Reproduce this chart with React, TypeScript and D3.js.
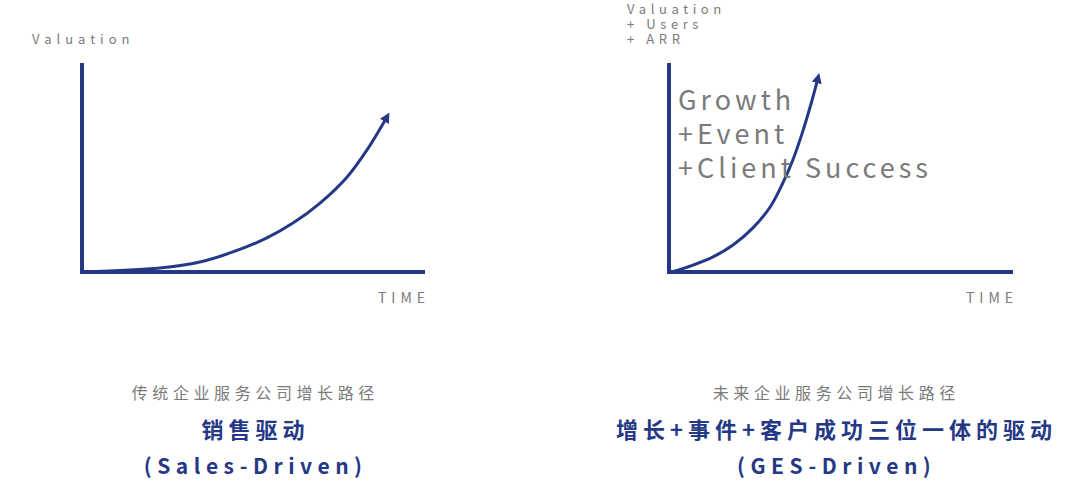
import React from "react";
import * as d3 from "d3";

const W = 1080;
const H = 489;
const NAVY = "#243886";
const GRAY = "#7a7a7a";
const FONT = "'Noto Sans CJK SC', 'Noto Sans', sans-serif";

// Left chart: Sales-Driven growth curve (time %, valuation %)
const salesTime = [0.3, 22.7, 34.4, 44, 53.9, 61.5, 69.4, 77.3, 83.1, 88.9];
const salesValue = [0, 1.9, 4.8, 9.6, 16.3, 23.4, 33, 45.5, 58.4, 74.2];

// Right chart: GES-Driven growth curve
const gesTime = [0.9, 7, 12.8, 18.6, 24.4, 29.4, 33.1, 36, 39, 41.6, 43.3];
const gesValue = [0, 3.3, 7.2, 12.9, 21.1, 31.1, 42.6, 53.6, 67.9, 82.3, 92.8];

const leftYLabels = ["Valuation"];
const rightYLabels = ["Valuation", "+ Users", "+ ARR"];
const growthLabels = ["Growth", "+Event", "+Client Success"];
const leftTitles = ["传统企业服务公司增长路径", "销售驱动", "(Sales-Driven)"];
const rightTitles = ["未来企业服务公司增长路径", "增长+事件+客户成功三位一体的驱动", "(GES-Driven)"];

type Panel = {
  x0: number;
  x1: number;
  t: number[];
  v: number[];
};

function Chart({ x0, x1, t, v, id }: Panel & { id: string }) {
  const x = d3.scaleLinear().domain([0, 100]).range([x0, x1]);
  const y = d3.scaleLinear().domain([0, 100]).range([272, 63]);
  const pts: [number, number][] = t.map((d, i) => [d, v[i]]);
  const line = d3
    .line<[number, number]>()
    .x((d) => x(d[0]))
    .y((d) => y(d[1]))
    .curve(d3.curveCatmullRom.alpha(0.5));
  return (
    <g>
      <defs>
        <marker
          id={id}
          viewBox="0 0 10 10"
          refX="5"
          refY="5"
          markerWidth="3.4"
          markerHeight="3.4"
          orient="auto"
          markerUnits="strokeWidth"
        >
          <path d="M0,0 L10,5 L0,10 Z" fill={NAVY} />
        </marker>
      </defs>
      <path
        d={`M${x(0)},${y(100)} L${x(0)},${y(0)} L${x(100)},${y(0)}`}
        fill="none"
        stroke={NAVY}
        strokeWidth={4}
        strokeLinejoin="miter"
      />
      <path d={line(pts) || ""} fill="none" stroke={NAVY} strokeWidth={3} markerEnd={`url(#${id})`} />
      <text
        x={x(100)}
        y={303}
        textAnchor="end"
        fontFamily={FONT}
        fontSize={14}
        letterSpacing={5}
        fill={GRAY}
        dx={5}
      >
        TIME
      </text>
    </g>
  );
}

export default function App() {
  const lcx = 253;
  const rcx = 834;
  return (
    <svg width={W} height={H} style={{ display: "block", position: "absolute", left: 0, top: 0, background: "#fff" }}>
      <rect width={W} height={H} fill="#fff" />
      <Chart id="arrL" x0={82} x1={425} t={salesTime} v={salesValue} />
      <Chart id="arrR" x0={669} x1={1013} t={gesTime} v={gesValue} />

      {leftYLabels.map((s, i) => (
        <text key={s} x={32} y={44 + i * 15} fontFamily={FONT} fontSize={13} letterSpacing={5} fill={GRAY}>
          {s}
        </text>
      ))}
      {rightYLabels.map((s, i) => (
        <text key={s} x={627} y={14 + i * 15} fontFamily={FONT} fontSize={13} letterSpacing={4.6} fill={GRAY}>
          {s}
        </text>
      ))}
      {growthLabels.map((s, i) => (
        <text key={s} x={678} y={110 + i * 34} fontFamily={FONT} fontSize={27} letterSpacing={4} fill={GRAY}>
          {s}
        </text>
      ))}

      {[
        { titles: leftTitles, cx: lcx },
        { titles: rightTitles, cx: rcx },
      ].map(({ titles, cx }) => (
        <g key={cx}>
          <text x={cx} y={399} textAnchor="middle" fontFamily={FONT} fontSize={16} letterSpacing={4.6} dx={2.3} fill={GRAY}>
            {titles[0]}
          </text>
          <text x={cx} y={438} textAnchor="middle" fontFamily={FONT} fontSize={22} fontWeight={700} letterSpacing={5} dx={2.5} fill={NAVY}>
            {titles[1]}
          </text>
          <text x={cx} y={474} textAnchor="middle" fontFamily={FONT} fontSize={21} fontWeight={700} letterSpacing={5.5} dx={2.7} fill={NAVY}>
            {titles[2]}
          </text>
        </g>
      ))}
    </svg>
  );
}
